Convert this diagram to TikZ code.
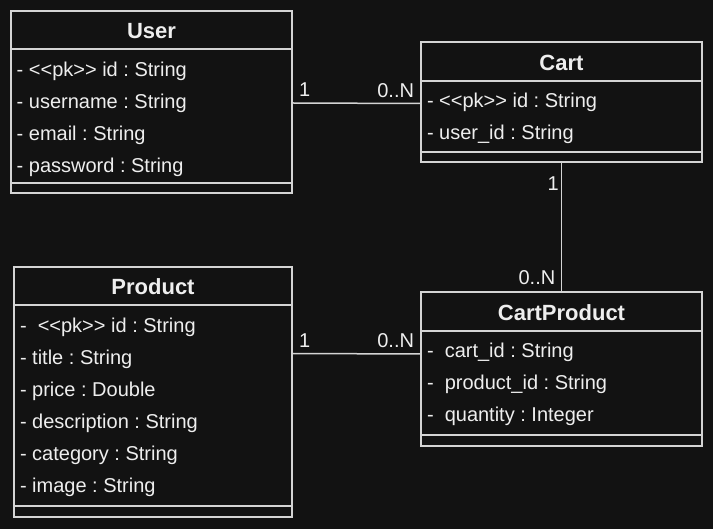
\documentclass[tikz,border=0pt]{standalone}
\usepackage{fontspec}
\setmainfont{Liberation Sans}[Ligatures=TeXOff]
\usepackage{tikz}
\frenchspacing

\definecolor{bgcol}{HTML}{121212}
\definecolor{linecol}{HTML}{D4D4D4}
\definecolor{textcol}{HTML}{EEEEEE}

\tikzset{
  classhead/.style={draw=linecol, line width=1.5pt, minimum width=281pt, minimum height=38pt,
    inner sep=0pt, text height=18pt, text depth=0pt, text=textcol,
    font=\fontsize{22}{24}\selectfont\bfseries},
  classbody/.style={draw=linecol, line width=1.5pt, minimum width=281pt, inner sep=0pt},
  classfoot/.style={draw=linecol, line width=1.5pt, minimum width=281pt, inner sep=0pt},
  field/.style={anchor=base west, inner sep=0pt, text=textcol, font=\fontsize{20}{24}\selectfont},
  mult/.style={inner sep=5.5pt, text=textcol, font=\fontsize{20}{24}\selectfont},
  assoc/.style={draw=linecol, line width=1.5pt}
}

\begin{document}
\begin{tikzpicture}[x=1pt, y=-1pt]

  \fill[bgcol] (0,0) rectangle (713,529);

    % User
    \node[classhead] (user) at (151.5,30) {User};
    \node[classbody, minimum height=134pt] (user-attrs) at (151.5,116) {};
    \node[classfoot, minimum height=10pt] (user-foot) at (151.5,188) {};
    \node[field] (user-id) at (16.5,77) {- <<pk>> id : String};
    \node[field] (user-name) at (16.5,109) {- username : String};
    \node[field] (user-mail) at (16.5,141) {- email : String};
    \node[field] (user-pass) at (16.5,173) {- password : String};

    % Cart
    \node[classhead, minimum height=39pt] (cart) at (561.5,61.5) {Cart};
    \node[classbody, minimum height=71pt] (cart-attrs) at (561.5,116.5) {};
    \node[classfoot, minimum height=10pt] (cart-foot) at (561.5,157) {};
    \node[field] (cart-id) at (426.8,108) {- <<pk>> id : String};
    \node[field] (cart-user) at (426.8,140) {- user\_id : String};

    % CartProduct
    \node[classhead, minimum height=39pt] (cp) at (561.5,311.5) {CartProduct};
    \node[classbody, minimum height=104pt] (cp-attrs) at (561.5,383) {};
    \node[classfoot, minimum height=11pt] (cp-foot) at (561.5,440.5) {};
    \node[field] (cp-cart) at (426.8,358) {- \ cart\_id : String};
    \node[field] (cp-product) at (426.8,390) {- \ product\_id : String};
    \node[field] (cp-qty) at (426.8,422) {- \ quantity : Integer};

    % Product
    \node[classhead, minimum width=278pt] (product) at (153,286) {Product};
    \node[classbody, minimum width=278pt, minimum height=201pt] (product-attrs) at (153,405.5) {};
    \node[classfoot, minimum width=278pt, minimum height=11pt] (product-foot) at (153,511.5) {};
    \node[field] (product-id) at (19.8,333) {- \ <<pk>> id : String};
    \node[field] (product-title) at (19.8,365) {- title : String};
    \node[field] (product-price) at (19.8,397) {- price : Double};
    \node[field] (product-desc) at (19.8,429) {- description : String};
    \node[field] (product-cat) at (19.8,461) {- category : String};
    \node[field] (product-img) at (19.8,493) {- image : String};

    % Associations
    \draw[assoc] ([yshift=13pt]user-attrs.east) -- ([yshift=13pt]cart-attrs.west)
      node[mult, pos=0, above right] {1}
      node[mult, pos=1, above left] {0..N};
    \draw[assoc] (cart-foot.south) -- (cp.north)
      node[mult, pos=0, below left, xshift=3.5pt, yshift=-7.5pt] {1}
      node[mult, pos=1, above left] {0..N};
    \draw[assoc] ([yshift=52pt]product-attrs.east) -- ([yshift=29pt]cp-attrs.west)
      node[mult, pos=0, above right] {1}
      node[mult, pos=1, above left] {0..N};

\end{tikzpicture}
\end{document}
